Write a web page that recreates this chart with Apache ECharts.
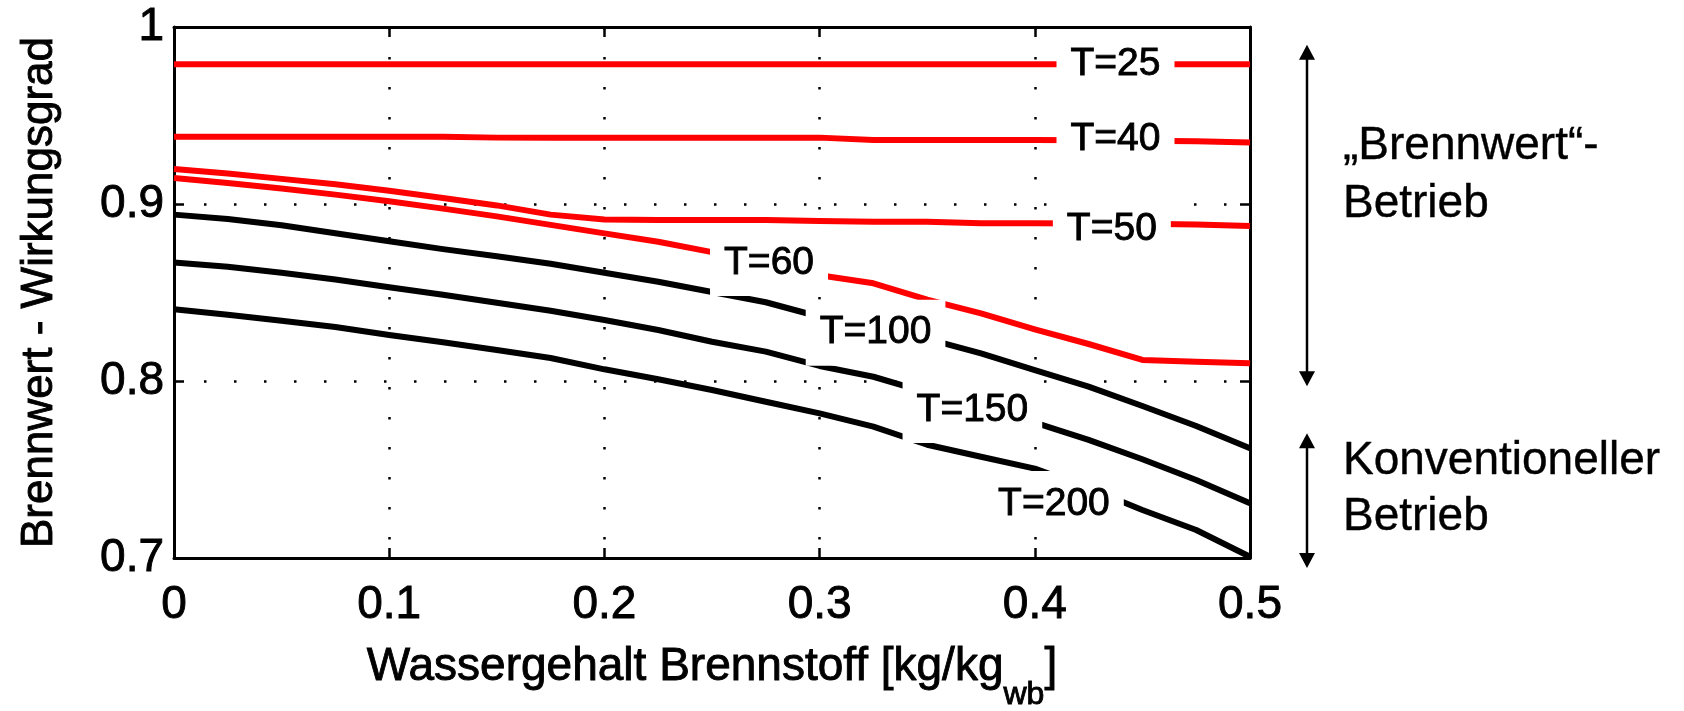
<!DOCTYPE html>
<html style="width: 100%;height:100%;">

<head>
    <meta charset="utf-8">
    <title>Brennwert - Wirkungsgrad</title>
    <script src="https://cdn.jsdelivr.net/npm/echarts@6/dist/echarts.min.js"></script>
    <style>
        html, body {
            margin: 0;
            padding: 0;
            background: #ffffff;
        }

        #chart {
            width: 1684px;
            height: 711px;
        }
    </style>
</head>

<body>
    <div id="chart"></div>
    <script>
        // water content of the fuel [kg/kg wb]
        const waterContent = [0, 0.025, 0.05, 0.075, 0.1, 0.125, 0.15, 0.175, 0.2, 0.225, 0.25,
            0.275, 0.3, 0.325, 0.35, 0.375, 0.4, 0.425, 0.45, 0.475, 0.5];

        // efficiency per flue gas temperature
        const eta25 = [0.979, 0.979, 0.979, 0.979, 0.979, 0.979, 0.979, 0.979, 0.979, 0.979, 0.979,
            0.979, 0.979, 0.979, 0.979, 0.979, 0.979, 0.979, 0.979, 0.979, 0.979];
        const eta40 = [0.938, 0.938, 0.938, 0.938, 0.938, 0.938, 0.9375, 0.9375, 0.9375, 0.9375, 0.9375,
            0.9375, 0.9375, 0.9362, 0.9362, 0.9362, 0.9362, 0.936, 0.9358, 0.9355, 0.9348];
        const eta50 = [0.9198, 0.9172, 0.9142, 0.9111, 0.9075, 0.9034, 0.8992, 0.894, 0.8913, 0.891, 0.891,
            0.891, 0.8904, 0.89, 0.89, 0.8891, 0.8891, 0.889, 0.8888, 0.8884, 0.8876];
        const eta60 = [0.9147, 0.9119, 0.9087, 0.9053, 0.9015, 0.8974, 0.893, 0.8882, 0.8834, 0.8787, 0.8728,
            0.866, 0.8597, 0.8552, 0.846, 0.8382, 0.8292, 0.8209, 0.8119, 0.8109, 0.81];
        const eta100 = [0.894, 0.8915, 0.888, 0.8835, 0.879, 0.8745, 0.8705, 0.8662, 0.8612, 0.8561, 0.8503,
            0.8445, 0.8363, 0.83, 0.8238, 0.8156, 0.8062, 0.7968, 0.7859, 0.7746, 0.762];
        const eta150 = [0.867, 0.8645, 0.8612, 0.8573, 0.853, 0.8487, 0.8442, 0.8397, 0.8345, 0.8288, 0.8222,
            0.8166, 0.8085, 0.8024, 0.7935, 0.7848, 0.7765, 0.7667, 0.7558, 0.7441, 0.7309];
        const eta200 = [0.8405, 0.8374, 0.834, 0.8305, 0.826, 0.8219, 0.8175, 0.813, 0.8066, 0.801, 0.7949,
            0.7883, 0.7817, 0.7742, 0.764, 0.7572, 0.7505, 0.7395, 0.7271, 0.7158, 0.7007];

        const curveNames = ['T=25', 'T=40', 'T=50', 'T=60', 'T=100', 'T=150', 'T=200'];
        const curveValues = [eta25, eta40, eta50, eta60, eta100, eta150, eta200];
        const curveColors = ['#ff0000', '#ff0000', '#ff0000', '#ff0000', '#000000', '#000000', '#000000'];

        // inline label positions (data coordinates)
        const labelX = [0.4375, 0.4375, 0.4358, 0.2765, 0.326, 0.371, 0.4089];
        const labelY = [0.979, 0.9365, 0.8859, 0.8667, 0.8273, 0.7836, 0.7305];

        // operating ranges marked by the arrows on the right
        const brennwertRange = [0.99, 0.797];
        const konventionellRange = [0.7705, 0.6944];

        const FONT = 'Arial, "Liberation Sans", sans-serif';
        // the original text is a bit heavier than Liberation Sans regular
        const heavy = { textBorderColor: '#000', textBorderWidth: 0.9 };

        document.addEventListener('DOMContentLoaded', function () {
            const chart = echarts.init(document.getElementById('chart'));

            const lineSeries = curveNames.map((name, i) => ({
                name: name,
                type: 'line',
                data: waterContent.map((x, j) => [x, curveValues[i][j]]),
                symbol: 'none',
                silent: true,
                z: 2,
                lineStyle: { color: curveColors[i], width: 6, join: 'round' }
            }));

            const labelSeries = {
                type: 'scatter',
                data: curveNames.map((name, i) => [labelX[i], labelY[i], name]),
                symbolSize: 0,
                silent: true,
                z: 10,
                itemStyle: { opacity: 1 },
                label: Object.assign({
                    show: true,
                    position: 'inside',
                    formatter: p => p.data[2],
                    fontFamily: FONT,
                    fontSize: 39,
                    lineHeight: 40,
                    color: '#000',
                    backgroundColor: '#ffffff',
                    padding: [13, 14]
                }, heavy)
            };

            const axisLine = { show: true, onZero: false, lineStyle: { color: '#000', width: 3 } };
            const tick = { show: true, inside: true, length: 10, lineStyle: { color: '#000', width: 2.5 } };
            const dotted = { show: true, lineStyle: { color: '#000', width: 2.5, type: [2.5, 27.5] } };
            const tickLabel = m => Object.assign({ fontFamily: FONT, fontSize: 46, color: '#000', margin: m }, heavy);

            const option = {
                animation: false,
                backgroundColor: '#ffffff',
                grid: { left: 174, right: 434, top: 27, bottom: 153, outerBoundsMode: 'none', containLabel: false },
                xAxis: [{
                    type: 'value', min: 0, max: 0.5, interval: 0.1, position: 'bottom',
                    axisLine: axisLine, axisTick: tick, splitLine: dotted,
                    axisLabel: tickLabel(24),
                    name: 'Wassergehalt Brennstoff [kg/kg{sub|wb}]',
                    nameLocation: 'middle',
                    nameGap: 84,
                    nameTextStyle: Object.assign({
                        fontFamily: FONT, fontSize: 46, color: '#000', verticalAlign: 'top', lineHeight: 50,
                        rich: {
                            sub: Object.assign({ fontFamily: FONT, fontSize: 32, color: '#000', lineHeight: 32, padding: [37, 0, 0, 0], verticalAlign: 'top' }, heavy)
                        }
                    }, heavy)
                }, {
                    type: 'value', min: 0, max: 0.5, interval: 0.1, position: 'top',
                    axisLine: axisLine, axisTick: tick, axisLabel: { show: false }, splitLine: { show: false }
                }],
                yAxis: [{
                    type: 'value', min: 0.7, max: 1, interval: 0.1, position: 'left',
                    axisLine: axisLine, axisTick: tick, splitLine: dotted,
                    axisLabel: tickLabel(10),
                    name: 'Brennwert - Wirkungsgrad',
                    nameLocation: 'middle',
                    nameGap: 112,
                    nameTextStyle: Object.assign({ fontFamily: FONT, fontSize: 44, color: '#000' }, heavy)
                }, {
                    type: 'value', min: 0.7, max: 1, interval: 0.1, position: 'right',
                    axisLine: axisLine, axisTick: tick, axisLabel: { show: false }, splitLine: { show: false }
                }],
                series: lineSeries.concat([labelSeries])
            };

            chart.setOption(option);

            // arrows and texts at the right side
            const arrowX = 1307;
            function arrow(range) {
                const y1 = chart.convertToPixel({ yAxisIndex: 0 }, range[0]);
                const y2 = chart.convertToPixel({ yAxisIndex: 0 }, range[1]);
                const head = 15, w = 8;
                return [
                    { type: 'line', shape: { x1: arrowX, y1: y1 + head - 2, x2: arrowX, y2: y2 - head + 2 }, style: { stroke: '#000', lineWidth: 2.5 } },
                    { type: 'polygon', shape: { points: [[arrowX, y1], [arrowX - w, y1 + head], [arrowX + w, y1 + head]] }, style: { fill: '#000' } },
                    { type: 'polygon', shape: { points: [[arrowX, y2], [arrowX - w, y2 - head], [arrowX + w, y2 - head]] }, style: { fill: '#000' } }
                ];
            }
            function note(text, y) {
                return {
                    type: 'text', x: 1343, y: y,
                    style: { text: text, fontFamily: FONT, fontSize: 46, fill: '#000', textAlign: 'left', textVerticalAlign: 'middle', stroke: '#000', lineWidth: 0.4 }
                };
            }

            chart.setOption({
                graphic: arrow(brennwertRange).concat(arrow(konventionellRange), [
                    note('\u201EBrennwert\u201C-', 146),
                    note('Betrieb', 204),
                    note('Konventioneller', 461),
                    note('Betrieb', 517)
                ])
            });
        });
    </script>
</body>

</html>
